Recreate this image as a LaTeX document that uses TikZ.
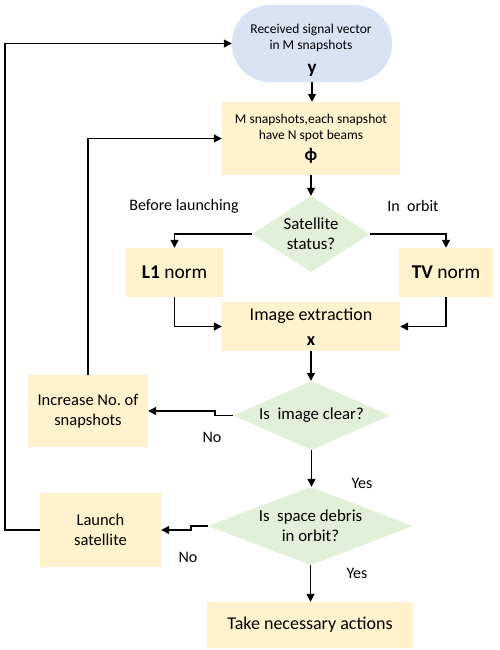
\documentclass[tikz,border=0pt]{standalone}
\usepackage{fontspec}
\setmainfont{Carlito}
\usepackage{tikz}
\usetikzlibrary{positioning,arrows.meta,shapes.geometric}
\definecolor{flowblue}{RGB}{218,227,243}
\definecolor{flowyellow}{RGB}{255,242,204}
\definecolor{flowgreen}{RGB}{226,240,217}

\begin{document}
\begin{tikzpicture}[x=1pt,y=-1pt,
  flowarrow/.style={line width=1.4pt,-{Triangle[length=8pt,width=8pt]}},
  procbox/.style={rectangle,fill=flowyellow,inner sep=0pt,align=center,font=\fontsize{16.5}{20}\selectfont},
  decision/.style={diamond,fill=flowgreen,inner sep=-10pt,shape aspect=2,align=center,font=\fontsize{16.8}{20}\selectfont},
  note/.style={font=\fontsize{16}{19}\selectfont,inner sep=0pt}]
\useasboundingbox (0,0) rectangle (500,650);

% TOP: received signal and measurement matrix
\node[fill=flowblue,rounded corners=38pt,minimum width=160pt,minimum height=77pt] (recv) at (312,43.5) {};
\node[font=\fontsize{13.5}{16}\selectfont,align=center,inner sep=0pt] (recvtxt) at (311,38) {Received signal vector\\in M snapshots};
\node[font=\fontsize{19}{19}\selectfont\bfseries,inner sep=0pt] (yvec) at (312,70) {y};
\node[procbox,font=\fontsize{13.5}{16}\selectfont,minimum width=178pt,minimum height=73pt] (snap) at (311,138.5)
  {M snapshots,each snapshot\\have N spot beams\\[5pt]{\fontsize{18}{18}\selectfont\bfseries ϕ}};

% MIDDLE: satellite status and the two norms
\node[decision,minimum width=118pt,minimum height=76pt] (status) at (311,234) {Satellite\\status?};
\node[note] (before) at (184,206) {Before launching};
\node[note] (inorbit) at (413,206) {In~ orbit};
\node[procbox,font=\fontsize{19.5}{22}\selectfont,minimum width=97pt,minimum height=49pt] (lone) at (174.5,272.5) {\textbf{L1} norm};
\node[procbox,font=\fontsize{19.5}{22}\selectfont,minimum width=94pt,minimum height=49pt] (tv) at (446,272.5) {\textbf{TV} norm};
\node[procbox,font=\fontsize{18}{22}\selectfont,minimum width=178pt,minimum height=49pt] (extract) at (311,326.5)
  {Image extraction\\[3pt]{\bfseries x}};

% BOTTOM: checks and actions
\node[decision,minimum width=157pt,minimum height=69pt] (clear) at (311.5,415.5) {Is~ image clear?};
\node[procbox,minimum width=120pt,minimum height=72pt] (incr) at (88,411) {Increase No.\ of\\snapshots};
\node[decision,minimum width=205pt,minimum height=78pt] (debris) at (310.5,526) {Is~ space debris\\in orbit?};
\node[procbox,minimum width=121pt,minimum height=74pt] (launch) at (100.5,530) {Launch\\satellite};
\node[procbox,font=\fontsize{18}{22}\selectfont,minimum width=206pt,minimum height=46pt] (act) at (310,625) {Take necessary actions};
\node[note] (noA) at (212,437) {No};
\node[note] (yesA) at (362,483) {Yes};
\node[note] (noB) at (188,557) {No};
\node[note] (yesB) at (357,573) {Yes};

% connectors
\coordinate (outer) at (5,0);
\draw[flowarrow] (recv.south) -- (recv.south |- snap.north);
\draw[flowarrow] (snap.south) -- (snap.south |- status.north);
\draw[flowarrow] (status.west) -| (lone.north);
\draw[flowarrow] (status.east) -| (tv.north);
\draw[flowarrow] (lone.south) |- (extract.west);
\draw[flowarrow] (tv.south) |- (extract.east);
\draw[flowarrow] (extract.south) -- (extract.south |- clear.north);
\draw[flowarrow] (clear.west) -- ++(-18,0) |- (incr.east);
\draw[flowarrow] (incr.north) |- (snap.west);
\draw[flowarrow] (clear.south) -- (clear.south |- debris.north);
\draw[flowarrow] (debris.west) -- ++(-17,0) |- (launch.east);
\draw[flowarrow] (launch.west) -- (launch.west -| outer) |- (recv.west);
\draw[flowarrow] (debris.south) -- (debris.south |- act.north);
\end{tikzpicture}
\end{document}
